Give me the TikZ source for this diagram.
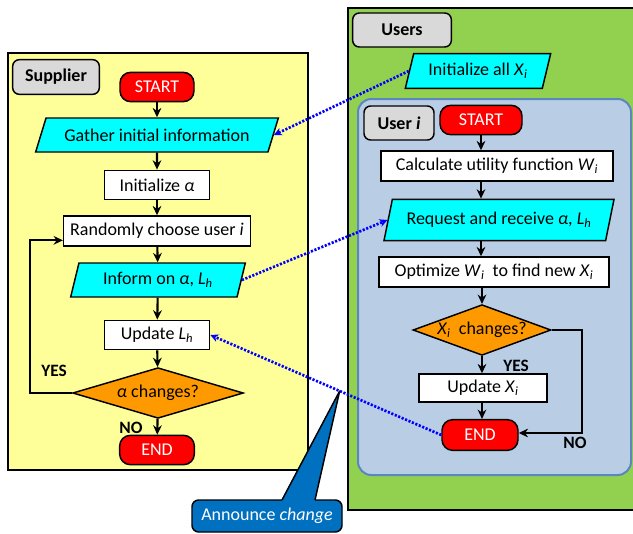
\documentclass[tikz,border=0pt]{standalone}
\usepackage{fontspec}
\setmainfont{Carlito}
\usetikzlibrary{shapes.geometric,arrows.meta,calc}

\definecolor{supfill}{HTML}{FFFF99}
\definecolor{usrgreen}{HTML}{92D050}
\definecolor{useriblue}{HTML}{B9CDE5}
\definecolor{useriline}{HTML}{5B86C0}
\definecolor{iocyan}{HTML}{00FFFF}
\definecolor{termred}{HTML}{FF0000}
\definecolor{decorange}{HTML}{FF9900}
\definecolor{taggray}{HTML}{D9D9D9}
\definecolor{msgblue}{HTML}{0000FF}
\definecolor{annblue}{HTML}{0070C0}

\newcommand{\vsub}[1]{\textsubscript{\textit{#1}}}

\tikzset{
  base/.style={font=\fontsize{13.5}{16}\selectfont, draw=black, line width=1.1pt, inner sep=2pt, align=center},
  procbox/.style={base, rectangle, fill=white},
  iobox/.style={base, trapezium, trapezium left angle=68, trapezium right angle=112,
    trapezium stretches body, fill=iocyan},
  termbox/.style={base, rectangle, rounded corners=8pt, fill=termred, text=white},
  decbox/.style={base, diamond, fill=decorange, inner sep=0pt},
  tagbox/.style={base, rectangle, rounded corners=5pt, fill=taggray,
    font=\fontsize{13.5}{16}\selectfont\bfseries},
  flow/.style={-{Stealth[length=7pt,width=6.5pt]}, line width=1.6pt},
  msg/.style={-{Stealth[length=6pt,width=6pt]}, draw=msgblue, line width=2pt,
    dash pattern=on 1.6pt off 1.2pt},
  ans/.style={font=\fontsize{13}{15}\selectfont\bfseries}
}

\begin{document}
\begin{tikzpicture}[x=0.75pt, y=-0.75pt]
  \useasboundingbox (0,0) rectangle (633,533);
  \clip (0,0) rectangle (633,533);

  % containers
  \draw[fill=supfill, line width=1.5pt] (8,53) rectangle (308,470);
  \draw[fill=usrgreen, line width=1.5pt] (348,8) rectangle (645,510);
  \draw[fill=useriblue, draw=useriline, line width=1.5pt, rounded corners=10pt]
    (358,99) rectangle (631,475);

  % supplier side
  \node[tagbox, minimum width=65pt, minimum height=26pt] (suptag) at (56,77) {Supplier};
  \node[termbox, minimum width=55.5pt, minimum height=22pt] (sstart) at (157,87) {START};
  \node[iobox, trapezium left angle=60, trapezium right angle=120,
    minimum width=182pt, minimum height=25.5pt] (gather) at (157,135) {Gather initial information};
  \node[procbox, minimum width=79pt, minimum height=22pt] (initA) at (157,185) {Initialize \textit{α}};
  \node[procbox, minimum width=140pt, minimum height=22.5pt] (srand) at (157,231) {Randomly choose user \textit{i}};
  \node[iobox, minimum width=131pt, minimum height=25.5pt] (inform) at (158,280)
    {Inform on \textit{α}, \textit{L}\vsub{h}};
  \node[procbox, minimum width=79pt, minimum height=22pt] (updL) at (157,335) {Update \textit{L}\vsub{h}};
  \node[decbox, shape aspect=3.35, minimum width=128pt, minimum height=38pt] (sdec) at (158,393)
    {\textit{α} changes?};
  \node[termbox, minimum width=56pt, minimum height=22pt] (send) at (157,450) {END};
  \node[ans] (syes) at (54,371) {YES};
  \node[ans] (sno) at (131,428) {NO};

  \draw[flow] (sstart) -- (gather);
  \draw[flow] (gather) -- (initA);
  \draw[flow] (initA) -- (srand);
  \draw[flow] (srand) -- (inform);
  \draw[flow] (inform) -- (updL);
  \draw[flow] (updL) -- (sdec);
  \draw[flow] (sdec) -- (send);
  \draw[flow] (sdec.west) -- ++(-42,0) |- ([yshift=-7pt]srand.west);

  % users side
  \node[tagbox, minimum width=74pt, minimum height=25.5pt] (usrtag) at (402,30) {Users};
  \node[iobox, minimum width=109pt, minimum height=26pt] (initX) at (478,71)
    {Initialize all \textit{X}\vsub{i}};
  \node[tagbox, minimum width=52.5pt, minimum height=25.5pt] (usitag) at (399,123) {User \textit{i}};
  \node[termbox, minimum width=61.5pt, minimum height=22pt] (ustart) at (481,120) {START};
  \node[procbox, minimum width=174pt, minimum height=22.5pt] (calc) at (497,166)
    {Calculate utility function \textit{W}\vsub{i}};
  \node[iobox, minimum width=172.5pt, minimum height=31pt] (request) at (499,220)
    {Request and receive \textit{α}, \textit{L}\vsub{h}};
  \node[procbox, minimum width=172.5pt, minimum height=22.5pt] (optim) at (494,272)
    {Optimize \textit{W}\vsub{i} \ to find new \textit{X}\vsub{i}};
  \node[decbox, shape aspect=2.7, inner sep=-3pt, minimum width=103.5pt, minimum height=38pt]
    (udec) at (482,330) {\textit{X}\vsub{i} \ changes?};
  \node[procbox, minimum width=96pt, minimum height=21pt] (updX) at (483,388) {Update \textit{X}\vsub{i}};
  \node[termbox, minimum width=57pt, minimum height=23pt] (uend) at (480,435) {END};
  \node[ans] (uyes) at (516,366) {YES};
  \node[ans] (uno) at (575,443) {NO};

  \draw[flow] (ustart.south) -- (ustart.south |- calc.north);
  \draw[flow] (ustart.south |- calc.south) -- (ustart.south |- request.north);
  \draw[flow] (ustart.south |- request.south) -- (ustart.south |- optim.north);
  \draw[flow] (udec.north |- optim.south) -- (udec.north);
  \draw[flow] (udec.south) -- (udec.south |- updX.north);
  \draw[flow] (udec.south |- updX.south) -- (udec.south |- uend.north);
  \draw[flow] (udec.east) -- ++(30,0) |- ([yshift=1.5pt]uend.east);

  % announce callout
  \coordinate (anntip) at ($(uend.west)!0.44!(updL.east)$);
  \node[base, fill=annblue, text=white, rounded corners=5pt,
    minimum width=112.5pt, minimum height=24pt] (announce) at (267,516) {Announce \textit{change}};
  \fill[annblue] (282,499) -- (anntip) -- (315,499) -- (315,505) -- (282,505) -- cycle;
  \draw[line width=1.1pt, line join=round] (282,500) -- (anntip) -- (315,500);

  % messages
  \draw[msg] (initX.west) -- (gather.east);
  \draw[msg] (inform.east) -- (request.west);
  \draw[msg] (uend.west) -- (updL.east);
\end{tikzpicture}
\end{document}
